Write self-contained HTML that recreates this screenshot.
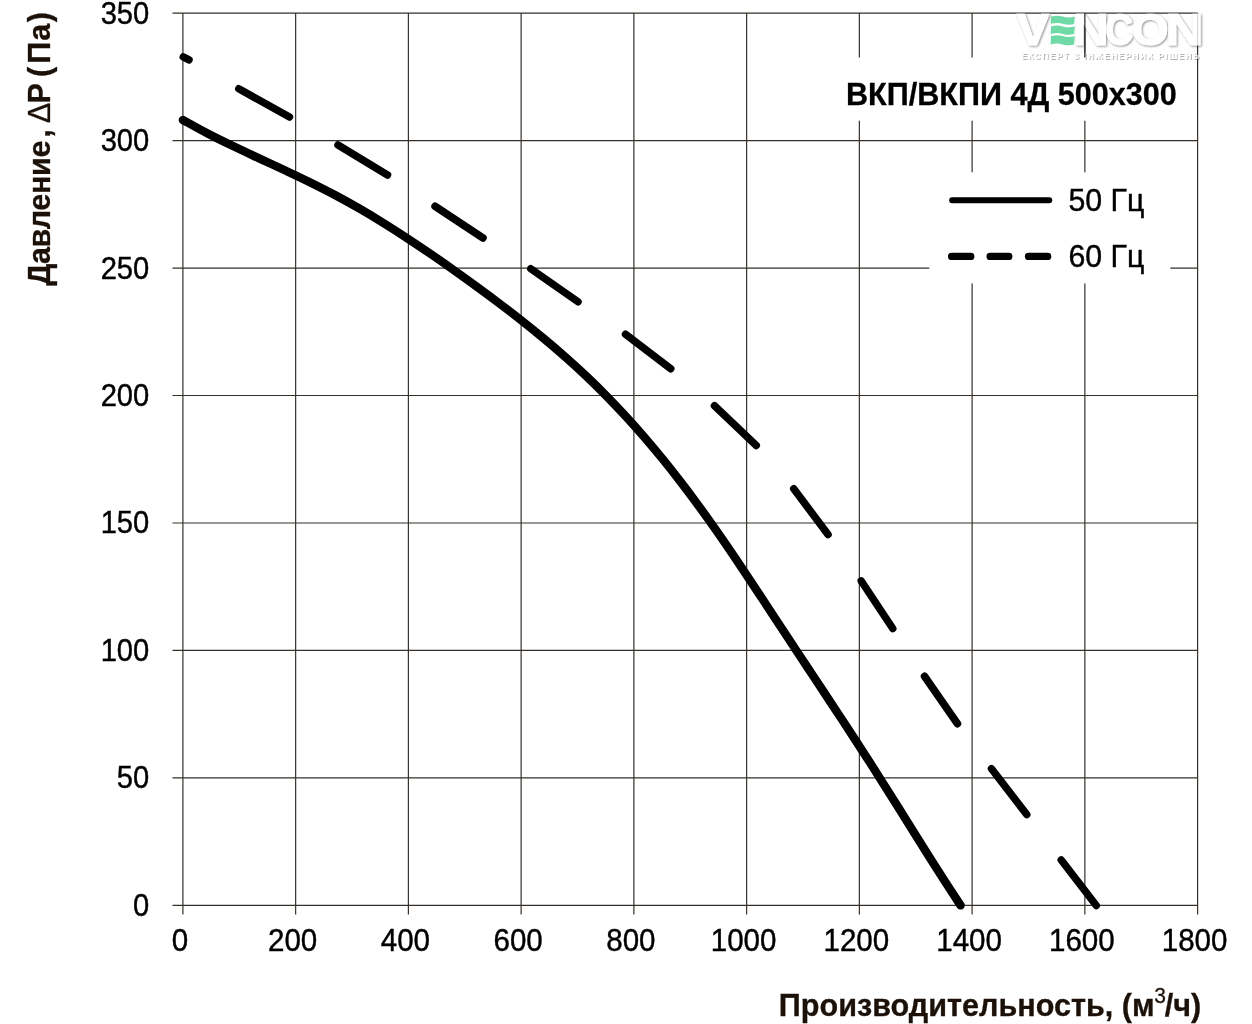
<!DOCTYPE html>
<html lang="ru"><head><meta charset="utf-8"><title>ВКП/ВКПИ 4Д 500х300</title>
<style>html,body{margin:0;padding:0;background:#fff;}body{width:1252px;height:1024px;overflow:hidden;font-family:"Liberation Sans",sans-serif;}svg{display:block;will-change:transform;}text{font-family:"Liberation Sans",sans-serif;}</style></head><body>
<svg width="1252" height="1024" viewBox="0 0 1252 1024">
<rect width="1252" height="1024" fill="#ffffff"/>
<g stroke="#35302a" stroke-width="1.2" fill="none">
<line x1="182.90" y1="13.10" x2="182.90" y2="914.60"/>
<line x1="295.64" y1="13.10" x2="295.64" y2="914.60"/>
<line x1="408.39" y1="13.10" x2="408.39" y2="914.60"/>
<line x1="521.13" y1="13.10" x2="521.13" y2="914.60"/>
<line x1="633.88" y1="13.10" x2="633.88" y2="914.60"/>
<line x1="746.62" y1="13.10" x2="746.62" y2="914.60"/>
<line x1="859.37" y1="13.10" x2="859.37" y2="914.60"/>
<line x1="972.11" y1="13.10" x2="972.11" y2="914.60"/>
<line x1="1084.86" y1="13.10" x2="1084.86" y2="914.60"/>
<line x1="1197.60" y1="13.10" x2="1197.60" y2="914.60"/>
<line x1="172.50" y1="13.10" x2="1197.60" y2="13.10"/>
<line x1="172.50" y1="140.57" x2="1197.60" y2="140.57"/>
<line x1="172.50" y1="268.04" x2="1197.60" y2="268.04"/>
<line x1="172.50" y1="395.51" x2="1197.60" y2="395.51"/>
<line x1="172.50" y1="522.99" x2="1197.60" y2="522.99"/>
<line x1="172.50" y1="650.46" x2="1197.60" y2="650.46"/>
<line x1="172.50" y1="777.93" x2="1197.60" y2="777.93"/>
<line x1="172.50" y1="905.40" x2="1197.60" y2="905.40"/>
</g>
<rect x="840" y="57.5" width="345" height="63.2" fill="#fff"/>
<rect x="929.3" y="172.3" width="241" height="111.1" fill="#fff"/>
<path d="M182.90,119.99 C187.03,122.24 199.32,129.15 207.67,133.49 C216.01,137.84 224.49,141.96 232.97,146.06 C241.46,150.16 250.03,154.11 258.58,158.10 C267.13,162.09 275.73,165.99 284.27,170.00 C292.81,174.01 301.36,178.00 309.81,182.17 C318.25,186.33 326.66,190.57 334.96,195.00 C343.26,199.42 351.46,204.01 359.60,208.71 C367.73,213.41 375.78,218.27 383.77,223.22 C391.76,228.17 399.68,233.25 407.54,238.41 C415.41,243.57 423.21,248.84 430.97,254.16 C438.74,259.49 446.45,264.90 454.13,270.36 C461.81,275.81 469.46,281.32 477.06,286.89 C484.67,292.45 492.25,298.06 499.76,303.74 C507.27,309.43 514.74,315.17 522.12,321.01 C529.50,326.85 536.83,332.76 544.06,338.78 C551.28,344.80 558.44,350.90 565.48,357.13 C572.52,363.36 579.47,369.69 586.29,376.16 C593.11,382.63 599.81,389.22 606.41,395.93 C613.00,402.64 619.47,409.48 625.83,416.42 C632.20,423.35 638.45,430.40 644.61,437.54 C650.76,444.67 656.80,451.91 662.75,459.22 C668.70,466.53 674.55,473.94 680.30,481.40 C686.06,488.86 691.71,496.40 697.29,503.99 C702.87,511.58 708.35,519.23 713.77,526.93 C719.20,534.62 724.53,542.36 729.84,550.13 C735.15,557.90 740.39,565.72 745.61,573.55 C750.83,581.37 756.01,589.23 761.19,597.09 C766.37,604.95 771.52,612.83 776.69,620.69 C781.86,628.56 787.03,636.43 792.21,644.29 C797.40,652.15 802.60,659.99 807.80,667.85 C813.00,675.70 818.21,683.54 823.40,691.40 C828.60,699.25 833.80,707.11 838.97,714.98 C844.15,722.84 849.31,730.71 854.45,738.61 C859.59,746.50 864.71,754.40 869.79,762.32 C874.87,770.24 879.91,778.19 884.94,786.15 C889.97,794.10 894.96,802.08 899.96,810.06 C904.96,818.03 909.93,826.02 914.93,833.99 C919.93,841.97 924.93,849.94 929.97,857.90 C935.00,865.85 940.05,873.80 945.16,881.72 C950.26,889.64 958.03,901.45 960.60,905.40" fill="none" stroke="#000" stroke-width="8.4" stroke-linecap="round" stroke-linejoin="round"/>
<g stroke="#000" stroke-width="7.5" stroke-linecap="round" fill="none">
<line x1="183.30" y1="56.90" x2="189.00" y2="59.80"/>
<line x1="238.75" y1="88.75" x2="289.50" y2="117.00"/>
<line x1="338.00" y1="145.00" x2="387.50" y2="175.00"/>
<line x1="435.00" y1="206.25" x2="483.00" y2="238.00"/>
<line x1="530.75" y1="268.75" x2="578.00" y2="301.75"/>
<line x1="625.50" y1="334.25" x2="670.75" y2="368.75"/>
<line x1="714.50" y1="405.75" x2="756.25" y2="445.50"/>
<line x1="793.75" y1="488.75" x2="828.00" y2="534.50"/>
<line x1="861.25" y1="581.00" x2="892.75" y2="628.50"/>
<line x1="924.50" y1="676.25" x2="957.50" y2="723.75"/>
<line x1="991.50" y1="768.75" x2="1026.75" y2="814.50"/>
<line x1="1061.25" y1="860.00" x2="1096.25" y2="905.50"/>
</g>
<line x1="952.1" y1="200.3" x2="1049.3" y2="200.3" stroke="#000" stroke-width="5.9" stroke-linecap="round"/>
<g stroke="#000" stroke-width="7.4" stroke-linecap="round">
<line x1="951.70" y1="256.4" x2="970.70" y2="256.4"/>
<line x1="990.20" y1="256.4" x2="1008.70" y2="256.4"/>
<line x1="1028.60" y1="256.4" x2="1047.60" y2="256.4"/>
</g>
<text transform="translate(1068.50,211.10) scale(1.01,1.06)" font-size="30" text-anchor="start" fill="#000" stroke="#000" stroke-width="0.4">50 Гц</text>
<text transform="translate(1068.50,267.00) scale(1.01,1.06)" font-size="30" text-anchor="start" fill="#000" stroke="#000" stroke-width="0.4">60 Гц</text>
<text transform="translate(846.00,105.00) scale(1.0,1.045)" font-size="30.6" text-anchor="start" font-weight="bold" fill="#000" stroke="#000" stroke-width="0.3">ВКП/ВКПИ 4Д 500х300</text>
<text transform="translate(149.30,23.60) scale(0.972,1.07)" font-size="30" text-anchor="end" fill="#000" stroke="#000" stroke-width="0.4">350</text>
<text transform="translate(149.30,151.07) scale(0.972,1.07)" font-size="30" text-anchor="end" fill="#000" stroke="#000" stroke-width="0.4">300</text>
<text transform="translate(149.30,278.54) scale(0.972,1.07)" font-size="30" text-anchor="end" fill="#000" stroke="#000" stroke-width="0.4">250</text>
<text transform="translate(149.30,406.01) scale(0.972,1.07)" font-size="30" text-anchor="end" fill="#000" stroke="#000" stroke-width="0.4">200</text>
<text transform="translate(149.30,533.49) scale(0.972,1.07)" font-size="30" text-anchor="end" fill="#000" stroke="#000" stroke-width="0.4">150</text>
<text transform="translate(149.30,660.96) scale(0.972,1.07)" font-size="30" text-anchor="end" fill="#000" stroke="#000" stroke-width="0.4">100</text>
<text transform="translate(149.30,788.43) scale(0.972,1.07)" font-size="30" text-anchor="end" fill="#000" stroke="#000" stroke-width="0.4">50</text>
<text transform="translate(149.30,915.90) scale(0.972,1.07)" font-size="30" text-anchor="end" fill="#000" stroke="#000" stroke-width="0.4">0</text>
<text transform="translate(179.90,951.00) scale(0.985,1.07)" font-size="30" text-anchor="middle" fill="#000" stroke="#000" stroke-width="0.4">0</text>
<text transform="translate(292.64,951.00) scale(0.985,1.07)" font-size="30" text-anchor="middle" fill="#000" stroke="#000" stroke-width="0.4">200</text>
<text transform="translate(405.39,951.00) scale(0.985,1.07)" font-size="30" text-anchor="middle" fill="#000" stroke="#000" stroke-width="0.4">400</text>
<text transform="translate(518.13,951.00) scale(0.985,1.07)" font-size="30" text-anchor="middle" fill="#000" stroke="#000" stroke-width="0.4">600</text>
<text transform="translate(630.88,951.00) scale(0.985,1.07)" font-size="30" text-anchor="middle" fill="#000" stroke="#000" stroke-width="0.4">800</text>
<text transform="translate(743.62,951.00) scale(0.985,1.07)" font-size="30" text-anchor="middle" fill="#000" stroke="#000" stroke-width="0.4">1000</text>
<text transform="translate(856.37,951.00) scale(0.985,1.07)" font-size="30" text-anchor="middle" fill="#000" stroke="#000" stroke-width="0.4">1200</text>
<text transform="translate(969.11,951.00) scale(0.985,1.07)" font-size="30" text-anchor="middle" fill="#000" stroke="#000" stroke-width="0.4">1400</text>
<text transform="translate(1081.86,951.00) scale(0.985,1.07)" font-size="30" text-anchor="middle" fill="#000" stroke="#000" stroke-width="0.4">1600</text>
<text transform="translate(1194.60,951.00) scale(0.985,1.07)" font-size="30" text-anchor="middle" fill="#000" stroke="#000" stroke-width="0.4">1800</text>
<text transform="translate(778.80,1015.60) scale(1.0,1.04)" font-size="30.6" text-anchor="start" font-weight="bold" fill="#1c1108" stroke="#1c1108" stroke-width="0.3">Производительность, (м<tspan font-size="21" font-weight="normal" dy="-12.4" dx="-0.5">3</tspan><tspan dy="12.4" dx="-1">/ч)</tspan></text>
<text transform="translate(50.00,285.50) rotate(-90) scale(1.0,1.03)" font-size="30.6" text-anchor="start" font-weight="bold" fill="#1c1108" stroke="#1c1108" stroke-width="0.3"><tspan letter-spacing="-0.35">Давление</tspan><tspan dx="3.15">,</tspan> <tspan font-weight="normal" dx="-2.75">Δ</tspan><tspan dx="-0.5">P</tspan> <tspan dx="-2.5">(</tspan><tspan dx="3.05">П</tspan><tspan dx="1.0">а</tspan><tspan dx="1.45">)</tspan></text>
<defs><filter id="ws" x="-5%" y="-20%" width="110%" height="150%"><feGaussianBlur in="SourceAlpha" stdDeviation="1.1" result="b"/><feOffset in="b" dx="0.7" dy="0.7" result="o"/><feComposite in="o" in2="SourceAlpha" operator="out" result="s"/><feColorMatrix in="s" type="matrix" values="0 0 0 0 0  0 0 0 0 0  0 0 0 0 0  0 0 0 0.45 0"/></filter><filter id="ws2" x="-5%" y="-40%" width="110%" height="200%"><feGaussianBlur in="SourceAlpha" stdDeviation="0.7" result="b"/><feOffset in="b" dx="0.5" dy="0.5" result="o"/><feComposite in="o" in2="SourceAlpha" operator="out" result="s"/><feColorMatrix in="s" type="matrix" values="0 0 0 0 0  0 0 0 0 0  0 0 0 0 0  0 0 0 0.3 0"/></filter></defs>
<g filter="url(#ws)" fill="#000" stroke="#000" stroke-width="1.2" font-weight="bold">
<text transform="translate(1016.87,44.9) scale(1.116,1)" font-size="43.6">V</text>
<text transform="translate(1073.32,44.9) scale(1.124,1)" font-size="43.6">N</text>
<text transform="translate(1105.21,44.9) scale(0.891,1)" font-size="43.6">C</text>
<text transform="translate(1131.85,44.9) scale(1.089,1)" font-size="43.6">O</text>
<text transform="translate(1165.38,44.9) scale(1.206,1)" font-size="43.6">N</text>
</g>
<g filter="url(#ws2)" fill="#000" font-weight="bold">
<text x="1021.5" y="59.0" font-size="8.4" stroke-width="0" textLength="177.5" lengthAdjust="spacing">ЕКСПЕРТ З ІНЖЕНЕРНИХ РІШЕНЬ</text>
</g>
<g fill="#fff" fill-opacity="0.8" stroke="#fff" stroke-opacity="0.8" stroke-width="1.2" font-weight="bold">
<text transform="translate(1016.87,44.9) scale(1.116,1)" font-size="43.6">V</text>
<text transform="translate(1073.32,44.9) scale(1.124,1)" font-size="43.6">N</text>
<text transform="translate(1105.21,44.9) scale(0.891,1)" font-size="43.6">C</text>
<text transform="translate(1131.85,44.9) scale(1.089,1)" font-size="43.6">O</text>
<text transform="translate(1165.38,44.9) scale(1.206,1)" font-size="43.6">N</text>
<text x="1021.5" y="59.0" font-size="8.4" stroke-width="0" textLength="177.5" lengthAdjust="spacing">ЕКСПЕРТ З ІНЖЕНЕРНИХ РІШЕНЬ</text>
</g>
<line x1="1084.86" y1="13.10" x2="1084.86" y2="57.5" stroke="#35302a" stroke-width="1.2"/>
<g fill="#6fdaa6">
<path d="M1051.10,16.60 C1055.60,15.40 1059.10,15.60 1062.60,16.60 C1067.10,17.90 1070.80,17.60 1074.80,16.80 L1074.10,24.00 C1070.80,24.80 1067.10,25.10 1062.60,23.80 C1059.10,22.80 1055.60,22.60 1050.60,23.80 Z"/>
<path d="M1051.10,26.40 C1055.60,25.20 1059.10,25.40 1062.60,26.40 C1067.10,27.70 1070.80,27.40 1074.80,26.60 L1074.10,34.10 C1070.80,34.90 1067.10,35.20 1062.60,33.90 C1059.10,32.90 1055.60,32.70 1050.60,33.90 Z"/>
<path d="M1051.10,36.10 C1055.60,34.90 1059.10,35.10 1062.60,36.10 C1067.10,37.40 1070.80,37.10 1074.80,36.30 L1074.10,44.60 C1070.80,45.40 1067.10,45.70 1062.60,44.40 C1059.10,43.40 1055.60,43.20 1050.60,44.40 Z"/>
</g>
</svg></body></html>
